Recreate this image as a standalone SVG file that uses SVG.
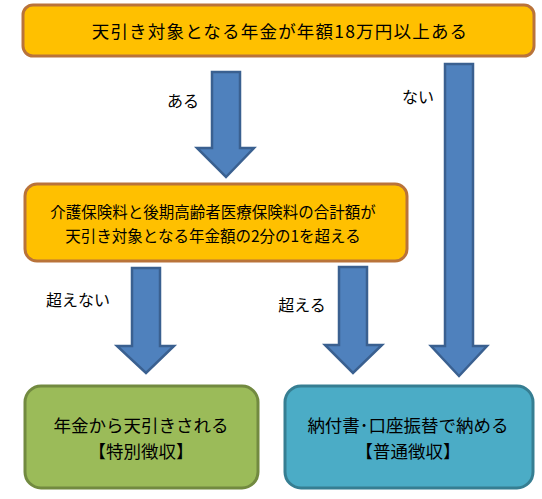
<svg xmlns="http://www.w3.org/2000/svg" width="542" height="499" viewBox="0 0 542 499">
<style>
.t{font-family:"Noto Sans CJK JP","Noto Sans",sans-serif;fill:#000;text-anchor:middle}
.org{fill:#FFC000;stroke:#B9733A;stroke-width:3}
.grn{fill:#9BBB59;stroke:#728A40;stroke-width:3}
.blu{fill:#4BACC6;stroke:#367E92;stroke-width:3}
.arr{fill:#4F81BD;stroke:#3A6090;stroke-width:2.5;stroke-linejoin:miter}
</style>
<rect width="542" height="499" fill="#fff"/>
<g id="connectors">
<polygon class="arr" points="212,72 240,72 240,148 254,148 226,177 197,148 212,148"/>
<polygon class="arr" points="445,64 473,64 473,346 487,346 459,376 431,346 445,346"/>
<polygon class="arr" points="132,268 160,268 160,346 174,346 146,373 117,346 132,346"/>
<polygon class="arr" points="339,267 367,267 367,345 382,345 353,373 325,345 339,345"/>
<text class="t" x="183" y="107" font-size="16">ある</text>
<text class="t" x="418" y="103" font-size="16">ない</text>
<text class="t" x="78" y="306" font-size="16">超えない</text>
<text class="t" x="302" y="311" font-size="16">超える</text>
</g>
<g id="n1">
<rect class="org" x="23" y="5" width="511" height="51" rx="10"/>
<text class="t" x="280" y="38" font-size="17.5" letter-spacing="1.2">天引き対象となる年金が年額18万円以上ある</text>
</g>
<g id="n2">
<rect class="org" x="25" y="184" width="382" height="77" rx="12"/>
<text class="t" x="213" y="218" font-size="15.5">介護保険料と後期高齢者医療保険料の合計額が</text>
<text class="t" x="213" y="242" font-size="15.5">天引き対象となる年金額の2分の1を超える</text>
</g>
<g id="n3">
<rect class="grn" x="25" y="386" width="233" height="102" rx="16"/>
<text class="t" x="141" y="432" font-size="17.5">年金から天引きされる</text>
<text class="t" x="141" y="458" font-size="17.5">【特別徴収】</text>
</g>
<g id="n4">
<rect class="blu" x="285" y="386" width="248" height="102" rx="16"/>
<text class="t" x="408" y="432" font-size="17.5">納付書･口座振替で納める</text>
<text class="t" x="408" y="458" font-size="17.5">【普通徴収】</text>
</g>
</svg>
